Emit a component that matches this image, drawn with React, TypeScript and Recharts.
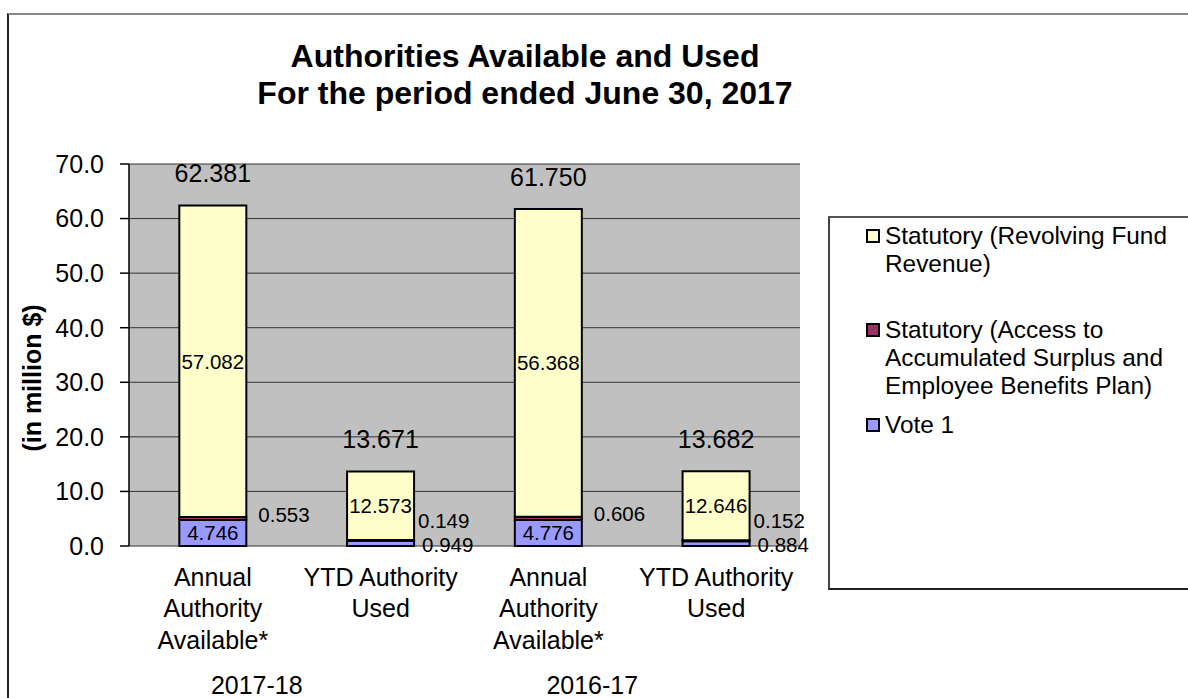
import React from 'react';
import { BarChart, Bar, XAxis, YAxis, CartesianGrid, LabelList, Label } from 'recharts';

const FONT = "'Liberation Sans', Arial, sans-serif";

const categories = [
  'Annual\nAuthority\nAvailable*',
  'YTD Authority\nUsed',
  'Annual\nAuthority\nAvailable*',
  'YTD Authority\nUsed',
];
const fiscalYears = ['2017-18', '2017-18', '2016-17', '2016-17'];
const vote1 = [4.746, 0.949, 4.776, 0.884];
const statutoryAccess = [0.553, 0.149, 0.606, 0.152];
const statutoryRevolving = [57.082, 12.573, 56.368, 12.646];
const yTicks = [0, 10, 20, 30, 40, 50, 60, 70];

const seriesNames = {
  vote1: 'Vote 1',
  access: 'Statutory (Access to Accumulated Surplus and Employee Benefits Plan)',
  revolving: 'Statutory (Revolving Fund Revenue)',
};
const colors = { vote1: '#9999FF', access: '#993366', revolving: '#FFFFCC' };

const data = categories.map((name, i) => ({
  name,
  year: fiscalYears[i],
  vote1: vote1[i],
  access: statutoryAccess[i],
  revolving: statutoryRevolving[i],
  total: vote1[i] + statutoryAccess[i] + statutoryRevolving[i],
}));

const fmt = (v: number) => Number(v).toFixed(3);

const CategoryTick = (props: any) => {
  const { x, y, payload } = props;
  const lines = String(payload.value).split('\n');
  return (
    <text x={x} y={y + 31} textAnchor="middle" fontSize={25} fill="#000" fontFamily={FONT}>
      {lines.map((l, i) => (
        <tspan key={i} x={x} dy={i === 0 ? '0.35em' : 31.5}>
          {l}
        </tspan>
      ))}
    </text>
  );
};

const YearTick = (props: any) => {
  const { x, y, payload } = props;
  return (
    <text x={x - 40} y={y + 29} dy="0.35em" textAnchor="middle" fontSize={25} fill="#000" fontFamily={FONT}>
      {payload.value}
    </text>
  );
};

// centred label inside a segment
const InnerLabel = (p: any) => {
  const { x, y, width, height, value } = p;
  return (
    <text x={x + width / 2} y={y + height / 2} dy="0.35em" textAnchor="middle" fontSize={20.5} fill="#000" fontFamily={FONT}>
      {fmt(value)}
    </text>
  );
};

// vote 1: inside when it fits, otherwise beside the bar
const VoteLabel = (p: any) => {
  const { x, y, width, height, value } = p;
  if (height >= 18) return <InnerLabel {...p} />;
  return (
    <text x={x + width + 8} y={y + height / 2 + 1} dy="0.35em" textAnchor="start" fontSize={20.5} fill="#000" fontFamily={FONT}>
      {fmt(value)}
    </text>
  );
};

const AccessLabel = (p: any) => {
  const { x, y, width, height, value, index } = p;
  const voteH = value ? (vote1[index] * height) / value : 0;
  const small = voteH < 18;
  return (
    <text
      x={x + width + (small ? 4 : 12)}
      y={y + height / 2 + (small ? -20 : -4)}
      dy="0.35em"
      textAnchor="start"
      fontSize={20.5}
      fill="#000"
      fontFamily={FONT}
    >
      {fmt(value)}
    </text>
  );
};

const TotalLabel = (p: any) => {
  const { x, y, width, value } = p;
  return (
    <text x={x + width / 2} y={y - 32} dy="0.35em" textAnchor="middle" fontSize={25} fill="#000" fontFamily={FONT}>
      {fmt(value)}
    </text>
  );
};

const legendItems: { key: keyof typeof colors; gap: number }[] = [
  { key: 'revolving', gap: 0 },
  { key: 'access', gap: 38 },
  { key: 'vote1', gap: 11 },
];

export default function App() {
  return (
    <div style={{ position: 'absolute', left: 0, top: 0, width: 1188, height: 698, overflow: 'hidden', background: '#fff', fontFamily: FONT }}>
      <div
        style={{
          position: 'absolute',
          left: 7,
          top: 13,
          width: 1200,
          height: 700,
          borderLeft: '2px solid #222',
          borderTop: '2px solid #888',
        }}
      />
      <div
        style={{
          position: 'absolute',
          left: 0,
          width: 1050,
          top: 38,
          textAlign: 'center',
          fontWeight: 'bold',
          fontSize: 32,
          lineHeight: '37px',
          color: '#000',
        }}
      >
        Authorities Available and Used
        <br />
        For the period ended June 30, 2017
      </div>

      <div style={{ position: 'absolute', left: 0, top: 0 }}>
        <BarChart
          width={1188}
          height={698}
          data={data}
          margin={{ top: 164, right: 388, bottom: 12, left: 0 }}
          barCategoryGap="30%"
        >
          <CartesianGrid vertical={false} stroke="#333" fill="#C0C0C0" fillOpacity={1} />
          <XAxis
            dataKey="name"
            height={110}
            axisLine={false}
            tickLine={false}
            tickSize={0}
            tickMargin={0}
            interval={0}
            tick={<CategoryTick />}
          />
          <XAxis
            xAxisId="year"
            dataKey="year"
            allowDuplicatedCategory={false}
            height={30}
            axisLine={false}
            tickLine={false}
            tickSize={0}
            tickMargin={0}
            interval={0}
            tick={<YearTick />}
          />
          <YAxis
            width={129}
            domain={[0, 70]}
            ticks={yTicks}
            interval={0}
            tickFormatter={(v: number) => v.toFixed(1)}
            tick={{ fill: '#000', fontSize: 25, fontFamily: FONT }}
            tickSize={9}
            tickMargin={16}
            axisLine={{ stroke: '#000', strokeWidth: 1.5 }}
            tickLine={{ stroke: '#000', strokeWidth: 1.5 }}
          >
            <Label
              content={() => (
                <text
                  transform="translate(32,378) rotate(-90)"
                  textAnchor="middle"
                  dy="0.35em"
                  fontWeight="bold"
                  fontSize={25}
                  fill="#000"
                  fontFamily={FONT}
                >
                  (in million $)
                </text>
              )}
            />
          </YAxis>
          <Bar dataKey="vote1" name={seriesNames.vote1} stackId="a" fill={colors.vote1} stroke="#000" strokeWidth={2} isAnimationActive={false}>
            <LabelList dataKey="vote1" content={VoteLabel} />
          </Bar>
          <Bar dataKey="access" name={seriesNames.access} stackId="a" fill={colors.access} stroke="#000" strokeWidth={2} isAnimationActive={false}>
            <LabelList dataKey="access" content={AccessLabel} />
          </Bar>
          <Bar dataKey="revolving" name={seriesNames.revolving} stackId="a" fill={colors.revolving} stroke="#000" strokeWidth={2} isAnimationActive={false}>
            <LabelList dataKey="revolving" content={InnerLabel} />
            <LabelList dataKey="total" content={TotalLabel} />
          </Bar>
        </BarChart>
      </div>

      <div
        style={{
          position: 'absolute',
          left: 828,
          top: 216,
          width: 400,
          height: 374,
          borderLeft: '2px solid #444',
          borderTop: '2px solid #555',
          borderBottom: '2px solid #222',
          boxSizing: 'border-box',
        }}
      >
        <div style={{ position: 'absolute', left: 36, top: 4 }}>
          {legendItems.map((it) => (
            <div key={it.key} style={{ display: 'flex', alignItems: 'flex-start', marginTop: it.gap, fontSize: 24.4, lineHeight: '28px', color: '#000' }}>
              <div
                style={{
                  width: 14,
                  height: 14,
                  marginTop: 7,
                  marginRight: 5,
                  flex: 'none',
                  boxSizing: 'border-box',
                  border: '2px solid #000',
                  background: colors[it.key],
                }}
              />
              <div style={{ width: 295 }}>{seriesNames[it.key]}</div>
            </div>
          ))}
        </div>
      </div>
    </div>
  );
}
